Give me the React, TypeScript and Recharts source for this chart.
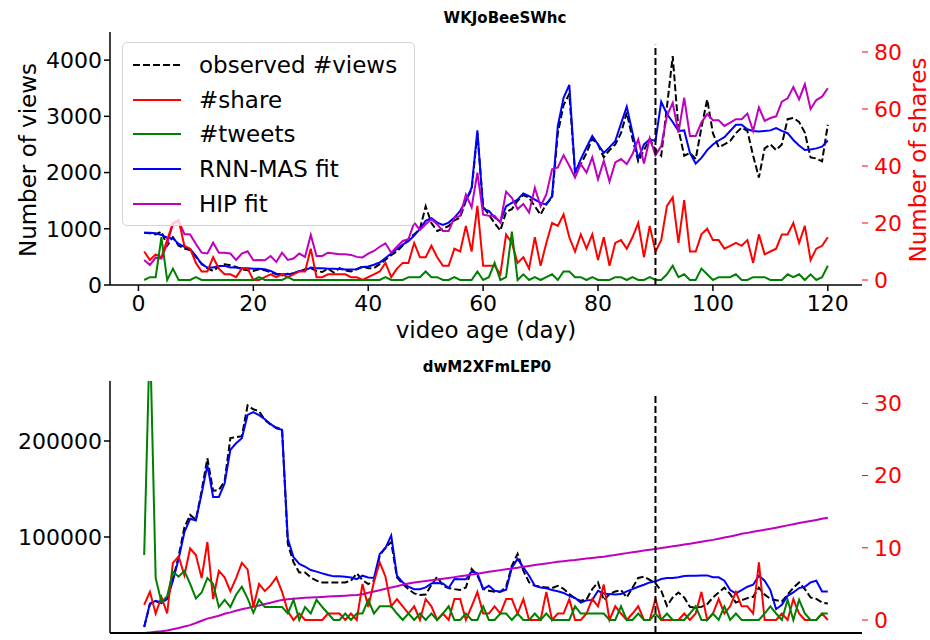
import React from "react";
import { ComposedChart, Line, XAxis, YAxis, ReferenceLine, Legend } from "recharts";

// video age in days
const days = Array.from({ length: 120 }, (_, i) => i + 1);

// ---- WKJoBeeSWhc ----
const viewsTop = [
  930, 920, 900, 950, 700, 850, 700, 650, 620, 500,
  380, 300, 250, 330, 370, 350, 320, 280, 260, 250,
  280, 260, 230, 190, 170, 200, 210, 240, 280, 300,
  250, 230, 290, 220, 300, 260, 240, 280, 330, 300,
  300, 370, 450, 530, 600, 700, 820, 900, 1000, 1400,
  1100, 960, 1000, 1050, 1150, 1200, 1500, 1700, 2700, 1400,
  1250, 1100, 970, 1300, 1350, 1500, 1600, 1550, 1400, 1250,
  1450, 1550, 2700, 3200, 3400, 2000, 2150, 2350, 2600, 2500,
  2270, 2400, 2500, 2700, 3070, 2600, 2200, 2400, 2590, 2410,
  2300, 3170, 4070, 2770, 2300, 2350, 2240, 2800, 3300, 2700,
  2450, 2500, 2560, 2700, 2800, 2740, 2300, 1910, 2430, 2500,
  2400, 2500, 2950, 2970, 2900, 2710, 2270, 2250, 2200, 2850,
];
const rnnTop = [
  930, 930, 920, 890, 840, 830, 730, 680, 640, 520,
  370, 310, 310, 340, 340, 310, 310, 300, 300, 290,
  290, 280, 250, 200, 190, 190, 205, 250, 260, 310,
  300, 300, 290, 290, 285, 275, 275, 280, 320, 330,
  360, 400, 480, 560, 640, 720, 780, 880, 1000, 1140,
  1190, 1110, 1070, 1110, 1200, 1320, 1500, 1730, 2750, 1350,
  1320, 1200, 1130, 1400, 1460, 1520, 1630, 1580, 1520, 1460,
  1430, 1580, 2830, 3330, 3560, 2000, 2240, 2450, 2650, 2500,
  2350, 2450, 2560, 2870, 3170, 2710, 2250, 2500, 2590, 2560,
  3260, 3040, 2900, 2740, 2750, 2350, 2160, 2260, 2400, 2500,
  2570, 2630, 2740, 2850, 2850, 2770, 2740, 2730, 2740, 2750,
  2790, 2740, 2700, 2580, 2480, 2400, 2410, 2430, 2460, 2570,
];
const hipTop = [
  445, 356, 486, 470, 730, 1085, 1140, 907, 900, 730,
  575, 560, 753, 575, 575, 560, 445, 560, 600, 440,
  445, 440, 516, 410, 575, 445, 470, 560, 500, 890,
  516, 516, 575, 560, 545, 545, 535, 500, 490, 557,
  605, 680, 742, 575, 680, 783, 813, 1110, 980, 1080,
  1170, 1080, 960, 960, 1200, 1230, 1610, 1380, 2000, 1250,
  1230, 1230, 1110, 1660, 1550, 1350, 1440, 1290, 1730, 1400,
  1610, 2060, 2090, 2310, 2120, 1910, 2150, 2000, 2270, 1880,
  2210, 1840, 2180, 2240, 2150, 2330, 2590, 2160, 2610, 2310,
  2470, 3010, 3240, 2710, 3330, 2650, 2650, 2890, 3040, 2930,
  2930, 2830, 2890, 2950, 2950, 3050, 2740, 3160, 2920, 2970,
  3000, 3260, 3320, 3520, 3300, 3570, 3130, 3290, 3350, 3500,
];
const shareTop = [
  10, 7, 9, 8, 14, 20, 21, 12, 11, 6,
  3, 3, 8, 4, 2, 2, 1, 4, 4, 0,
  0, 1, 2, 1, 2, 1, 2, 3, 3, 11,
  1, 1, 2, 2, 2, 2, 1, 1, 0, 1,
  2, 3, 6, 1, 4, 6, 6, 13, 8, 8,
  12, 8, 5, 5, 11, 10, 19, 10, 26, 5,
  5, 5, 2, 16, 13, 6, 8, 4, 15, 5,
  13, 20, 19, 23, 15, 10, 16, 11, 16, 7,
  15, 5, 13, 14, 11, 15, 20, 8, 19, 10,
  14, 26, 29, 13, 28, 10, 10, 16, 18, 14,
  14, 11, 12, 13, 12, 14, 6, 16, 9, 10,
  11, 16, 16, 20, 13, 19, 7, 11, 12, 15,
];
const tweetsTop = [
  0, 1, 1, 15, 0, 4, 0, 0, 0, 1,
  0, 0, 0, 0, 0, 0, 0, 0, 0, 0,
  1, 0, 0, 0, 0, 1, 0, 0, 0, 0,
  0, 0, 0, 0, 0, 0, 0, 0, 0, 0,
  0, 0, 1, 0, 0, 0, 1, 1, 1, 3,
  1, 1, 0, 0, 1, 0, 0, 0, 3, 0,
  1, 6, 0, 1, 17, 0, 2, 0, 1, 0,
  1, 2, 0, 3, 3, 1, 1, 0, 1, 0,
  0, 0, 1, 1, 0, 1, 0, 0, 1, 0,
  0, 2, 5, 1, 2, 0, 0, 4, 2, 0,
  1, 1, 1, 2, 0, 0, 1, 1, 1, 0,
  0, 0, 2, 1, 2, 0, 2, 0, 1, 5,
];

// ---- dwM2XFmLEP0 ----
const viewsBottom = [
  6300, 30000, 33000, 31000, 36000, 56000, 80000, 110000, 123000, 118000,
  148000, 182000, 148000, 149000, 158000, 203000, 204000, 205000, 237000, 233000,
  231000, 222000, 217000, 214000, 212000, 92900, 73600, 63100, 63100, 57900,
  54500, 52700, 52700, 52700, 52700, 52700, 54500, 62100, 55200, 51000,
  54500, 80600, 89300, 94600, 57900, 51000, 45700, 41200, 39500, 40000,
  50000, 58600, 49200, 46800, 45700, 44800, 47500, 66700, 60000, 46000,
  44000, 43000, 43000, 48000, 70000, 82400, 65000, 52700, 49200, 48200,
  47500, 46800, 49200, 46000, 40500, 36000, 33500, 35000, 45700, 52700,
  34200, 40500, 43300, 44700, 37000, 47200, 57300, 58600, 55300, 51700,
  44000, 28300, 37000, 42200, 37000, 27200, 26500, 27200, 30000, 37000,
  42200, 47200, 40500, 31700, 34200, 36300, 37700, 47200, 40000, 35600,
  34200, 32800, 40000, 47200, 52700, 45700, 37000, 35600, 31700, 30700,
];
const rnnBottom = [
  6300, 30700, 33500, 31800, 35300, 54500, 77200, 105000, 119000, 117300,
  145200, 174900, 141700, 141700, 155700, 190900, 197600, 202800, 227200, 230000,
  227000, 222600, 217800, 213300, 211600, 98100, 78900, 71900, 69100, 65600,
  63900, 62100, 60400, 59000, 59000, 58600, 57900, 56200, 59700, 57900,
  57300, 82400, 88300, 101600, 59700, 52700, 48200, 45700, 45700, 47500,
  51700, 52000, 51500, 46800, 56200, 56000, 56000, 64200, 62100, 45700,
  49200, 44000, 43000, 45000, 68000, 77200, 68400, 59700, 49200, 47500,
  46500, 44800, 43400, 41700, 38700, 36500, 31700, 34000, 34300, 44000,
  41200, 40500, 40000, 40500, 43300, 45700, 48200, 50300, 52700, 53800,
  56200, 57300, 57300, 58000, 59300, 59700, 59700, 60000, 60000, 58000,
  58000, 54500, 44700, 41200, 44700, 48200, 50300, 59700, 54500, 44700,
  24800, 29300, 38700, 42200, 46800, 48200, 52700, 54500, 43300, 43300,
];
const hipBottom = [
  0, 600, 1200, 1800, 2600, 4000, 5300, 6800, 8200, 10400,
  12800, 15000, 16500, 18000, 20000, 21500, 23200, 24800, 26000, 27400,
  28600, 30200, 31600, 33100, 34500, 35100, 35800, 36200, 36600, 37000,
  37200, 37500, 37900, 38300, 38600, 38900, 39200, 39600, 40400, 42000,
  43300, 44600, 46000, 47400, 48800, 50200, 51600, 52600, 53400, 54200,
  55000, 55800, 56600, 57400, 58200, 59000, 59900, 60800, 61800, 62800,
  63800, 64700, 65500, 66300, 67100, 68000, 69000, 69900, 70800, 71600,
  72400, 73300, 74200, 74800, 75400, 76000, 76800, 77500, 78200, 78800,
  79500, 80400, 81300, 82300, 83200, 84100, 85000, 85900, 86800, 87600,
  88500, 89400, 90300, 91200, 92100, 93000, 94000, 95000, 96000, 97000,
  98200, 99400, 100600, 101900, 103300, 104300, 105400, 106400, 107500, 108500,
  109700, 110900, 112100, 113300, 114500, 115600, 116700, 117800, 119000, 120100,
];
const shareBottom = [
  2.1, 3.9, 0.9, 3.2, 0.9, 7.9, 8.8, 6.2, 9.9, 9.0,
  5.8, 10.8, 2.9, 6.8, 5.9, 4.0, 5.8, 7.9, 7.0, 1.8,
  5.0, 4.0, 4.8, 5.9, 3.9, 1.2, 0, 0.9, 0, 0,
  0, 0, 0.9, 0.9, 0.9, 0, 0.9, 0, 5.0, 1.8,
  5.3, 8.0, 6.0, 1.9, 2.9, 1.9, 0.9, 1.9, 0, 2.9,
  1.9, 0, 0.9, 0, 2.9, 2.9, 0, 1.9, 3.9, 0.9,
  0.9, 1.9, 0.9, 2.9, 2.9, 0.9, 2.9, 0, 0, 0,
  3.9, 0, 0.9, 0.9, 2.9, 0, 0, 0.9, 2.9, 1.9,
  4.9, 0, 1.9, 0.9, 0, 0.9, 1.9, 0, 0, 2.9,
  0, 0, 0, 0, 0.9, 0, 0.9, 3.9, 0, 0.9,
  2.9, 0.9, 1.9, 3.9, 1.9, 1.9, 0.9, 8.0, 0, 0,
  0, 0.9, 0, 2.9, 0.9, 0, 0, 0, 0.9, 0,
];
const tweetsBottom = [
  9, 40, 5.8, 2.5, 3.3, 6.7, 6.0, 6.8, 5.0, 3.0,
  3.8, 5.8, 5.0, 1.8, 2.8, 1.8, 3.5, 4.6, 3.0, 1.0,
  2.8, 1.8, 1.8, 1.8, 1.8, 0.9, 2.8, 0, 1.8, 0.9,
  2.8, 1.8, 0.9, 0, 0, 0.9, 0, 0.9, 0.9, 2.8,
  0.9, 1.9, 1.9, 1.9, 0.9, 0, 0.9, 0, 0.9, 0,
  0.9, 0, 0.9, 1.9, 0, 0, 0.9, 0, 0, 1.9,
  0, 0, 0.9, 0.9, 0, 0.9, 0, 0, 0.9, 0,
  0.9, 0, 0, 0, 0, 1.9, 0.9, 0.9, 0.9, 0.9,
  0.9, 0, 0, 1.9, 0, 0, 0.9, 0, 0, 0.9,
  0, 0.9, 0, 0, 0, 0.9, 1.9, 0, 0, 0.9,
  0, 1.9, 0, 0.9, 0, 0, 0, 0, 0.9, 1.9,
  0.9, 0, 2.8, 0, 2.8, 0.9, 0, 0, 0.9, 0.9,
];

const dayTicks = [0, 20, 40, 60, 80, 100, 120];
const viewTicksTop = [0, 1000, 2000, 3000, 4000];
const shareTicksTop = [0, 20, 40, 60, 80];
const viewTicksBottom = [0, 100000, 200000];
const shareTicksBottom = [0, 10, 20, 30];
const splitDay = 90;

const FONT = "'DejaVu Sans', sans-serif";
const RED = "#ff0000";
const DASH = "7 3";

const legendItems = [
  { name: "observed #views", color: "#000000", dash: DASH },
  { name: "#share", color: RED, dash: undefined },
  { name: "#tweets", color: "#008000", dash: undefined },
  { name: "RNN-MAS fit", color: "#0000ff", dash: undefined },
  { name: "HIP fit", color: "#bf00bf", dash: undefined },
];

function buildRows(views: number[], share: number[], tweets: number[], rnn: number[], hip: number[]) {
  return days.map((day, i) => ({
    day,
    views: views[i],
    share: share[i],
    tweets: tweets[i],
    rnn: rnn[i],
    hip: hip[i],
  }));
}

const topRows = buildRows(viewsTop, shareTop, tweetsTop, rnnTop, hipTop);
const bottomRows = buildRows(viewsBottom, shareBottom, tweetsBottom, rnnBottom, hipBottom);

function LegendBox() {
  return (
    <div
      style={{
        width: 293,
        height: 184,
        boxSizing: "border-box",
        border: "1px solid #d4d4d4",
        borderRadius: 5,
        background: "rgba(255,255,255,0.8)",
        position: "relative",
        fontFamily: FONT,
        fontSize: 23,
        color: "#000",
      }}
    >
      {legendItems.map((item, i) => (
        <div
          key={item.name}
          style={{
            position: "absolute",
            left: 0,
            top: 22 + i * 34.7 - 17,
            height: 34,
            display: "flex",
            alignItems: "center",
            whiteSpace: "nowrap",
          }}
        >
          <svg width={76} height={34}>
            <line x1={10} x2={58} y1={17} y2={17} stroke={item.color} strokeWidth={2} strokeDasharray={item.dash} />
          </svg>
          <span style={{ lineHeight: "34px" }}>{item.name}</span>
        </div>
      ))}
    </div>
  );
}

const seriesLines = (
  <>
    <Line yAxisId="left" dataKey="views" stroke="#000000" strokeWidth={2} strokeDasharray={DASH} dot={false} activeDot={false} isAnimationActive={false} />
    <Line yAxisId="left" dataKey="rnn" stroke="#0000ff" strokeWidth={2} dot={false} activeDot={false} isAnimationActive={false} />
    <Line yAxisId="left" dataKey="hip" stroke="#bf00bf" strokeWidth={2} dot={false} activeDot={false} isAnimationActive={false} />
    <Line yAxisId="right" dataKey="share" stroke={RED} strokeWidth={2} dot={false} activeDot={false} isAnimationActive={false} />
    <Line yAxisId="right" dataKey="tweets" stroke="#008000" strokeWidth={2} dot={false} activeDot={false} isAnimationActive={false} />
  </>
);

const tickStyle = { fontSize: 22, fill: "#000", fontFamily: FONT };
const redTickStyle = { fontSize: 22, fill: RED, fontFamily: FONT };

function Title({ text, x, y }: { text: string; x: number; y: number }) {
  return (
    <div
      style={{
        position: "absolute",
        left: x - 150,
        top: y - 10,
        width: 300,
        textAlign: "center",
        fontFamily: FONT,
        fontWeight: "bold",
        fontSize: 15,
        lineHeight: "20px",
      }}
    >
      {text}
    </div>
  );
}

function RotatedLabel({ text, x, y, color }: { text: string; x: number; y: number; color: string }) {
  return (
    <div
      style={{
        position: "absolute",
        left: x - 150,
        top: y - 15,
        width: 300,
        height: 30,
        lineHeight: "30px",
        textAlign: "center",
        transform: "rotate(-90deg)",
        fontFamily: FONT,
        fontSize: 23,
        color,
        whiteSpace: "nowrap",
      }}
    >
      {text}
    </div>
  );
}

export default function App() {
  return (
    <div style={{ position: "absolute", left: 0, top: 0, width: 930, height: 640, background: "#fff", overflow: "hidden", fontFamily: FONT }}>
      {/* upper panel */}
      <div style={{ position: "absolute", left: 0, top: 0 }}>
        <ComposedChart width={930} height={320} data={topRows} margin={{ top: 32, right: 0, bottom: 0, left: 0 }}>
          <XAxis
            dataKey="day"
            type="number"
            domain={[-4.95, 125.95]}
            allowDataOverflow
            ticks={dayTicks}
            height={35}
            tick={tickStyle}
            tickMargin={4}
            stroke="#000"
            strokeWidth={1.5}
          />
          <YAxis
            yAxisId="left"
            domain={[0, 4500]}
            allowDataOverflow
            ticks={viewTicksTop}
            width={110}
            tick={tickStyle}
            stroke="#000"
            strokeWidth={1.5}
          />
          <YAxis
            yAxisId="right"
            orientation="right"
            domain={[-1.75, 87]}
            allowDataOverflow
            ticks={shareTicksTop}
            width={68}
            axisLine={false}
            tickLine={{ stroke: RED }}
            tickMargin={6}
            tick={redTickStyle}
          />
          {seriesLines}
          <ReferenceLine
            yAxisId="left"
            segment={[{ x: splitDay, y: 0 }, { x: splitDay, y: 4275 }]}
            stroke="#000"
            strokeWidth={2}
            strokeDasharray={DASH}
          />
          <Legend
            layout="horizontal"
            verticalAlign="middle"
            align="center"
            content={() => <LegendBox />}
            wrapperStyle={{ left: 122, top: 42, width: 293, height: 184 }}
          />
        </ComposedChart>
      </div>

      {/* lower panel */}
      <div style={{ position: "absolute", left: 0, top: 340 }}>
        <ComposedChart width={930} height={300} data={bottomRows} margin={{ top: 41, right: 0, bottom: 0, left: 0 }}>
          <XAxis
            dataKey="day"
            type="number"
            domain={[-4.95, 125.95]}
            allowDataOverflow
            ticks={dayTicks}
            height={7}
            tick={false}
            tickLine={false}
            stroke="#000"
            strokeWidth={2}
          />
          <YAxis
            yAxisId="left"
            domain={[0, 262500]}
            allowDataOverflow
            ticks={viewTicksBottom}
            width={110}
            tick={tickStyle}
            stroke="#000"
            strokeWidth={1.5}
          />
          <YAxis
            yAxisId="right"
            orientation="right"
            domain={[-1.8, 33.1]}
            allowDataOverflow
            ticks={shareTicksBottom}
            width={68}
            axisLine={false}
            tickLine={{ stroke: RED }}
            tickMargin={6}
            tick={redTickStyle}
          />
          {seriesLines}
          <ReferenceLine
            yAxisId="left"
            segment={[{ x: splitDay, y: 0 }, { x: splitDay, y: 249375 }]}
            stroke="#000"
            strokeWidth={2}
            strokeDasharray={DASH}
          />
        </ComposedChart>
      </div>

      <Title text="WKJoBeeSWhc" x={505} y={18} />
      <Title text="dwM2XFmLEP0" x={487} y={367} />
      <RotatedLabel text="Number of views" x={28} y={160} color="#000" />
      <RotatedLabel text="Number of shares" x={918} y={160} color={RED} />
      <div
        style={{
          position: "absolute",
          left: 286,
          top: 315,
          width: 400,
          textAlign: "center",
          fontFamily: FONT,
          fontSize: 23,
          lineHeight: "30px",
        }}
      >
        video age (day)
      </div>
    </div>
  );
}
